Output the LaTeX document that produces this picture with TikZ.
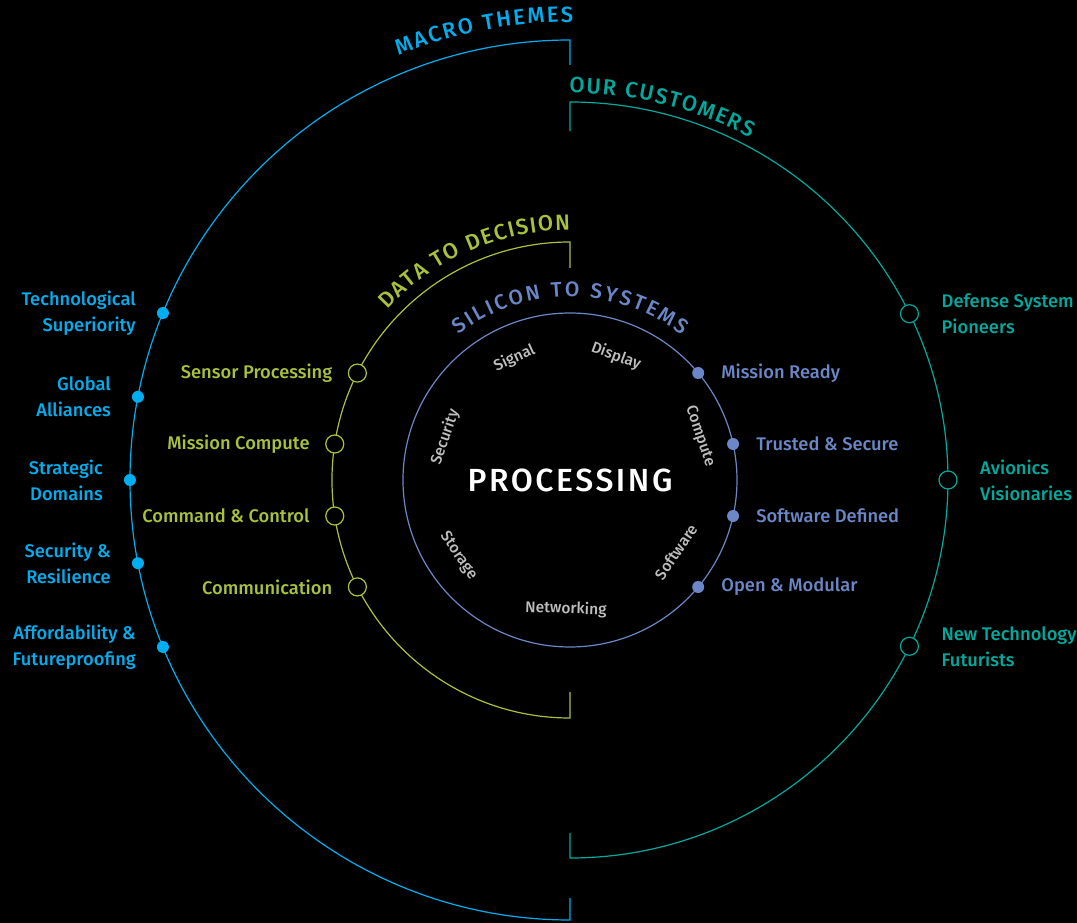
\documentclass[tikz,border=0pt]{standalone}
\usepackage{fontspec}
\setmainfont{Fira Sans}[UprightFont={* Medium}]
\usetikzlibrary{positioning}
\usetikzlibrary{decorations.text}

\definecolor{macro}{HTML}{00AEEF}
\definecolor{cust}{HTML}{00A99D}
\definecolor{data}{HTML}{A8C23C}
\definecolor{silicon}{HTML}{6B87C7}
\definecolor{wordgray}{HTML}{BEBEBE}

\begin{document}
\begin{tikzpicture}[x=1pt,y=1pt,line width=1.2pt,
	dot/.style={circle, fill=#1, inner sep=0pt, minimum size=12pt},
	ring/.style={circle, draw=#1, fill=black, inner sep=0pt, minimum size=18pt},
	lbl/.style={text=#1, inner sep=0pt, font=\fontsize{18.3}{26}\selectfont},
	word/.style={text=wordgray, inner sep=0pt, font=\fontsize{15.5}{16}\selectfont}]
	\fill[black] (-570,-443) rectangle (507,480);
	\useasboundingbox (-570,-443) rectangle (507,480);

	% the four rings
	\draw[macro] (0,415) -- (0,440) arc[start angle=90, end angle=270, radius=440] -- (0,-418);
	\draw[cust] (0,349) -- (0,378) arc[start angle=90, end angle=-90, radius=378] -- (0,-353);
	\draw[data] (0,212) -- (0,238) arc[start angle=90, end angle=270, radius=238] -- (0,-212);
	\draw[silicon] (0,0) circle[radius=167];

	% ring titles
	\path[decorate, decoration={text along path, text align=fit to path,
		text={|\fontsize{22}{22}\selectfont\color{macro}|MACRO THEMES}}]
		(112:458) arc[start angle=112, end angle=89.6, radius=458];
	\path[decorate, decoration={text along path, text align=fit to path,
		text={|\fontsize{22}{22}\selectfont\color{cust}|OUR CUSTOMERS}}]
		(90.1:387) arc[start angle=90.1, end angle=62.2, radius=387];
	\path[decorate, decoration={text along path, text align=fit to path,
		text={|\fontsize{22}{22}\selectfont\color{data}|DATA TO DECISION}}]
		(137:250) arc[start angle=137, end angle=90, radius=250];
	\path[decorate, decoration={text along path, text align=fit to path,
		text={|\fontsize{21}{21}\selectfont\color{silicon}|SILICON TO SYSTEMS}}]
		(127.4:183) arc[start angle=127.4, end angle=52.2, radius=183];

	% macro themes
	\node (m1) [dot=macro] at (157.7:440) {};
	\node (m2) [dot=macro] at (169.1:440) {};
	\node (m3) [dot=macro] at (180:440) {};
	\node (m4) [dot=macro] at (190.9:440) {};
	\node (m5) [dot=macro] at (202.3:440) {};
	\node (m1l) [lbl=macro, align=right, left=20pt of m1] {Technological\\Superiority};
	\node (m2l) [lbl=macro, align=right, left=20pt of m2] {Global\\Alliances};
	\node (m3l) [lbl=macro, align=right, left=20pt of m3] {Strategic\\Domains};
	\node (m4l) [lbl=macro, align=right, left=20pt of m4] {Security \&\\Resilience};
	\node (m5l) [lbl=macro, align=right, left=20pt of m5] {Affordability \&\\Futureproofing};

	% our customers
	\node (c1) [ring=cust] at (26.1:378) {};
	\node (c2) [ring=cust] at (0:378) {};
	\node (c3) [ring=cust] at (-26.1:378) {};
	\node (c1l) [lbl=cust, align=left, right=22pt of c1] {Defense System\\Pioneers};
	\node (c2l) [lbl=cust, align=left, right=22pt of c2] {Avionics\\Visionaries};
	\node (c3l) [lbl=cust, align=left, right=22pt of c3] {New Technology\\Futurists};

	% data to decision
	\node (d1) [ring=data] at (153.3:238) {};
	\node (d2) [ring=data] at (171.3:238) {};
	\node (d3) [ring=data] at (188.7:238) {};
	\node (d4) [ring=data] at (206.7:238) {};
	\node (d1l) [lbl=data, left=15pt of d1] {Sensor Processing};
	\node (d2l) [lbl=data, left=15pt of d2] {Mission Compute};
	\node (d3l) [lbl=data, left=15pt of d3] {Command \& Control};
	\node (d4l) [lbl=data, left=15pt of d4] {Communication};

	% silicon to systems
	\node (s1) [dot=silicon] at (39.85:167) {};
	\node (s2) [dot=silicon] at (12.45:167) {};
	\node (s3) [dot=silicon] at (-12.45:167) {};
	\node (s4) [dot=silicon] at (-39.85:167) {};
	\node (s1l) [lbl=silicon, right=16pt of s1] {Mission Ready};
	\node (s2l) [lbl=silicon, right=16pt of s2] {Trusted \& Secure};
	\node (s3l) [lbl=silicon, right=16pt of s3] {Software Defined};
	\node (s4l) [lbl=silicon, right=16pt of s4] {Open \& Modular};

	% processing core
	\node (w1) [word, rotate=24.5] at (114.5:134) {Signal};
	\node (w2) [word, rotate=-20.4] at (69.6:132) {Display};
	\node (w3) [word, rotate=-71.3] at (18.7:137) {Compute};
	\node (w4) [word, rotate=55.8] at (-34.2:128) {Software};
	\node (w5) [word, rotate=-1.8] at (-91.8:129) {Networking};
	\node (w6) [word, rotate=-55.8] at (214.2:135) {Storage};
	\node (w7) [word, rotate=71] at (161:132) {Security};
	\node (core) [text=white, font=\fontsize{32}{32}\selectfont\addfontfeatures{LetterSpace=8}] at (0,0) {PROCESSING};
\end{tikzpicture}
\end{document}
